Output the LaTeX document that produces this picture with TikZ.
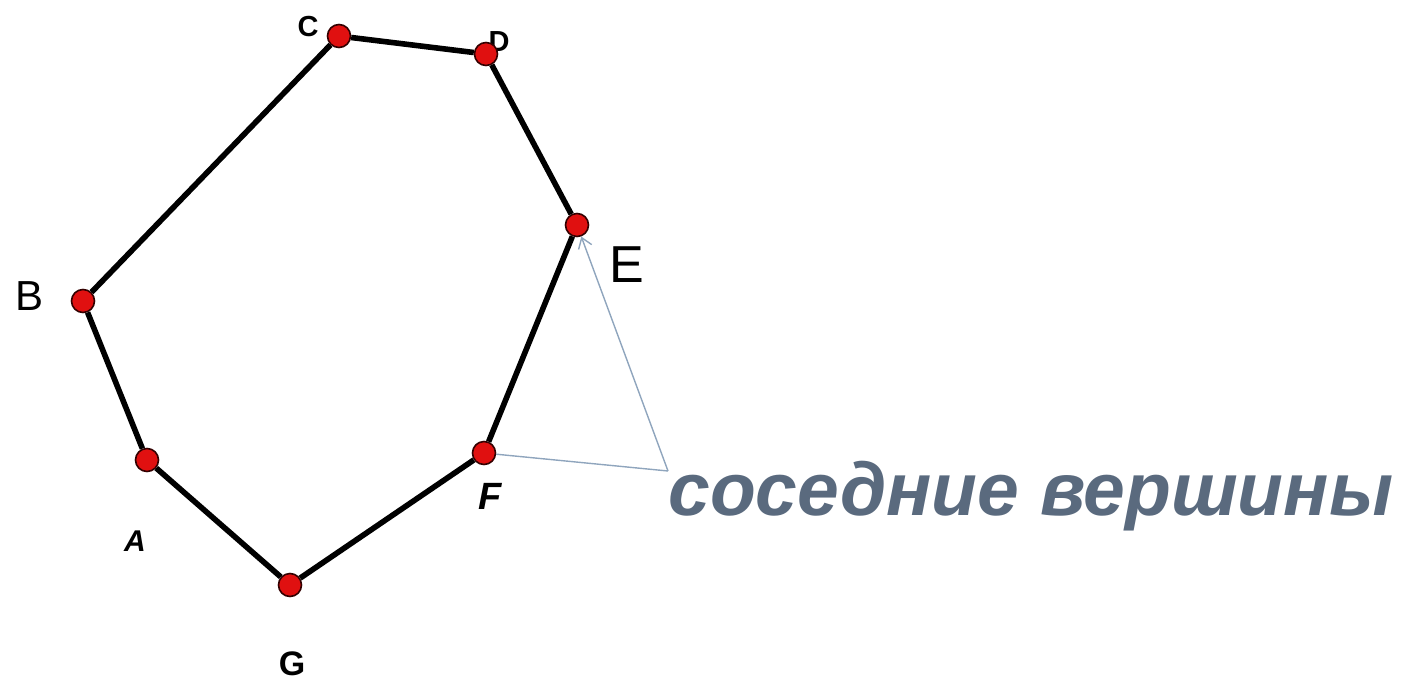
\documentclass[tikz,border=0pt]{standalone}
\usepackage{fontspec}
\setmainfont{Liberation Sans}
\usetikzlibrary{arrows.meta}
\definecolor{vertexred}{HTML}{E01010}
\definecolor{pointerblue}{HTML}{8FA5BD}
\definecolor{captiongray}{HTML}{5A6A7E}
\tikzset{
  vertex/.style={circle,draw=black!80!red,line width=0.8pt,fill=vertexred,minimum size=11.5pt,inner sep=0pt},
  side/.style={draw,line width=2.8pt},
  pointer/.style={draw=pointerblue,line width=0.7pt},
  lbl/.style={inner sep=0pt,font=\bfseries}
}

\begin{document}
\begin{tikzpicture}[x=0.5pt,y=-0.5pt]

\useasboundingbox (0,0) rectangle (1401,686);

% =========================================================
% Labels
% =========================================================

\node[lbl,font=\bfseries\fontsize{14.5}{16}\selectfont] (lC) at (308,27) {C};
\node[lbl,font=\bfseries\fontsize{14.5}{16}\selectfont] (lD) at (499,42) {D};
\node[lbl,font=\fontsize{26}{30}\selectfont] (lE) at (627,265) {E};
\node[lbl,font=\bfseries\itshape\fontsize{19}{22}\selectfont] (lF) at (490,496) {F};
\node[lbl,font=\bfseries\fontsize{17}{20}\selectfont] (lG) at (292,664) {G};
\node[lbl,font=\bfseries\itshape\fontsize{15}{18}\selectfont] (lA) at (135,541) {A};
\node[lbl,font=\fontsize{21}{24}\selectfont] (lB) at (30,296) {B};

% =========================================================
% Vertices
% =========================================================

\node[vertex] (C) at (339,36) {};
\node[vertex] (D) at (486,54) {};
\node[vertex] (E) at (577,225) {};
\node[vertex] (F) at (484,453) {};
\node[vertex] (G) at (290,585) {};
\node[vertex] (A) at (147,460) {};
\node[vertex] (B) at (83,301) {};

% =========================================================
% Polygon
% =========================================================

\draw[side] (A) -- (B);
\draw[side] (B) -- (C);
\draw[side] (C) -- (D);
\draw[side] (D) -- (E);
\draw[side] (E) -- (F);
\draw[side] (F) -- (G);
\draw[side] (G) -- (A);

% =========================================================
% Pointer to the neighbours
% =========================================================

\coordinate (tip) at (668,471);
\node[anchor=base west,inner sep=0pt,text=captiongray,
      font=\bfseries\itshape\fontsize{37.5}{44}\selectfont] (caption) at (668,515) {соседние вершины};

\draw[pointer,-{Straight Barb[length=5pt,width=7pt]}] (tip) -- (E);
\draw[pointer] (tip) -- (F);

\end{tikzpicture}
\end{document}
